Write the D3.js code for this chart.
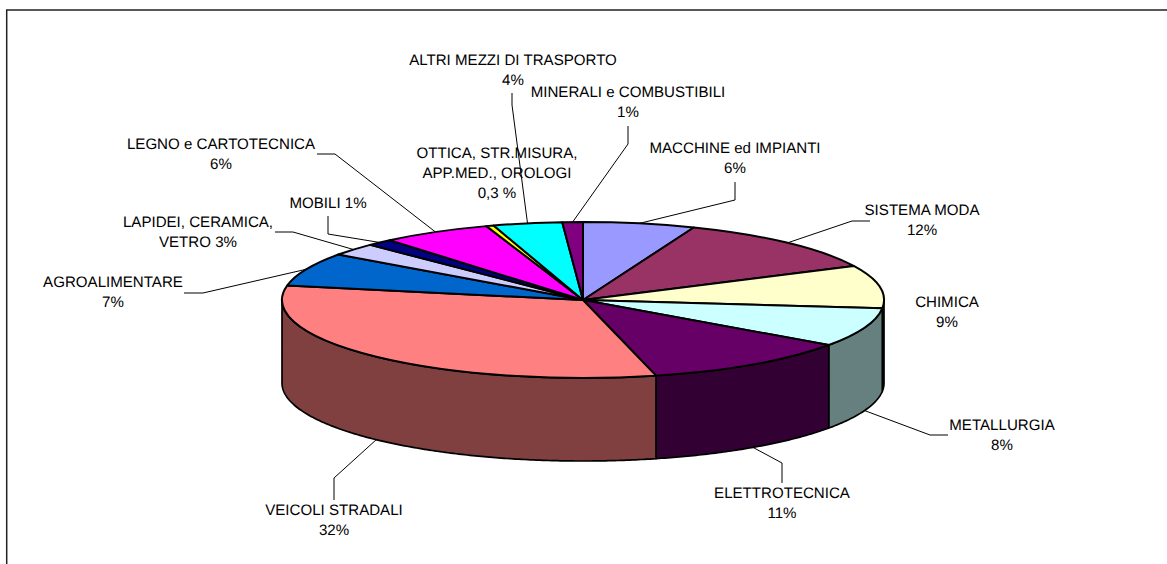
<!DOCTYPE html>
<html>
<head>
<meta charset="utf-8">
<script src="https://cdn.jsdelivr.net/npm/d3@7"></script>
<style>
  html, body { margin: 0; padding: 0; background: #fff; overflow: hidden; }
  text { font-family: "Liberation Sans", Arial, sans-serif; font-size: 15.1px; fill: #000; text-rendering: geometricPrecision; }
</style>
</head>
<body>
<svg id="chart" width="1167" height="564"></svg>
<script>
// slice shares (clockwise from twelve o'clock)
var sectors = [ "MACCHINE", "SISTEMA MODA", "CHIMICA", "METALLURGIA", "ELETTROTECNICA",
  "VEICOLI STRADALI", "AGROALIMENTARE", "LAPIDEI", "MOBILI", "LEGNO", "OTTICA", "ALTRI MEZZI", "MINERALI" ];
var shares = [ 6.0, 11.8, 8.9, 8.1, 11.3, 31.9, 6.9, 2.6, 1.4, 5.9, 0.4, 3.7, 1.1 ];
var colors = [ "#9999ff", "#993366", "#ffffcc", "#ccffff", "#660066", "#ff8080", "#0066cc",
  "#ccccff", "#000080", "#ff00ff", "#ffff00", "#00ffff", "#800080" ];

// printed labels, one array of lines per sector
var labelLines = [
  [ "MACCHINE ed IMPIANTI", "6%" ],
  [ "SISTEMA MODA", "12%" ],
  [ "CHIMICA", "9%" ],
  [ "METALLURGIA", "8%" ],
  [ "ELETTROTECNICA", "11%" ],
  [ "VEICOLI STRADALI", "32%" ],
  [ "AGROALIMENTARE", "7%" ],
  [ "LAPIDEI, CERAMICA,", "VETRO 3%" ],
  [ "MOBILI 1%" ],
  [ "LEGNO e CARTOTECNICA", "6%" ],
  [ "OTTICA, STR.MISURA,", "APP.MED., OROLOGI", "0,3 %" ],
  [ "ALTRI MEZZI DI TRASPORTO", "4%" ],
  [ "MINERALI e COMBUSTIBILI", "1%" ]
];

// label centre and first line y, then the leader bend and end (null = no leader)
var labelPos = [
  { x: 735, y: 147.5, bend: [ 735, 200 ], end: [ 735, 182 ] },
  { x: 922, y: 209.5, bend: [ 852, 221 ], end: [ 870, 221 ] },
  { x: 947, y: 301.5, bend: null, end: null },
  { x: 1002, y: 424.5, bend: [ 930, 435 ], end: [ 948, 435 ] },
  { x: 782, y: 492.5, bend: [ 782, 463 ], end: [ 782, 483 ] },
  { x: 334, y: 509.5, bend: [ 334, 478 ], end: [ 334, 500 ] },
  { x: 113, y: 281.5, bend: [ 203, 293 ], end: [ 184, 293 ] },
  { x: 198, y: 221.5, bend: [ 293, 232 ], end: [ 275, 232 ] },
  { x: 328, y: 202.5, bend: [ 328, 234 ], end: [ 328, 216 ] },
  { x: 221, y: 143.5, bend: [ 335, 154 ], end: [ 317, 154 ] },
  { x: 497, y: 152.5, bend: null, end: null },
  { x: 513, y: 59.5, bend: [ 512, 105 ], end: [ 512, 93 ] },
  { x: 628, y: 91.5, bend: [ 628, 144 ], end: [ 628, 126 ] }
];

var cx = 583, cy = 300, rx = 301, ry = 78, depth = 83;
var lineHeight = 20.3;

var svg = d3.select( "#chart" );

// chart frame, cut off by the window on the right and at the bottom
svg.append( "path" )
  .attr( "d", "M6.7,564V10H1167" )
  .attr( "fill", "none" )
  .attr( "stroke", "#222" )
  .attr( "stroke-width", 1.5 );

var pie = d3.pie().sort( null ).value( d => d.share );
var slices = pie( shares.map( ( share, i ) => ( { share: share, color: colors[ i ], i: i } ) ) );

// angles are measured clockwise from the top, as in d3.arc
function onRim( a, drop ) {
  return [ cx + rx * Math.sin( a ), cy - ry * Math.cos( a ) + ( drop || 0 ) ];
}

function halfTone( c ) {
  var rgb = d3.rgb( c );
  return d3.rgb( rgb.r / 2, rgb.g / 2, rgb.b / 2 ).formatHex();
}

// front walls: only the part of a slice between 90 and 270 degrees shows
var rimLine = d3.line();

function wallPath( d ) {
  var a0 = Math.max( d.startAngle, Math.PI / 2 ),
    a1 = Math.min( d.endAngle, Math.PI * 1.5 );
  if( a1 <= a0 ) return null;
  var angles = d3.range( a0, a1, 0.01 ).concat( [ a1 ] );
  var top = angles.map( a => onRim( a ) ),
    bottom = angles.slice().reverse().map( a => onRim( a, depth ) );
  return rimLine( top.concat( bottom ) ) + "Z";
}

svg.append( "g" )
  .selectAll( "path.wall" )
  .data( slices.filter( d => wallPath( d ) ) )
  .enter().append( "path" )
    .attr( "class", "wall" )
    .attr( "d", wallPath )
    .attr( "fill", d => halfTone( d.data.color ) )
    .attr( "stroke", "#000" )
    .attr( "stroke-width", 1.7 )
    .attr( "stroke-linejoin", "round" );

// top face: a flat pie squashed into an ellipse
var arc = d3.arc().innerRadius( 0 ).outerRadius( rx );

svg.append( "g" )
  .attr( "transform", "translate(" + cx + "," + cy + ") scale(1," + ( ry / rx ) + ")" )
  .selectAll( "path.slice" )
  .data( slices )
  .enter().append( "path" )
    .attr( "class", "slice" )
    .attr( "d", arc )
    .attr( "fill", d => d.data.color )
    .attr( "stroke", "#000" )
    .attr( "stroke-width", 2 )
    .attr( "stroke-linejoin", "round" )
    .attr( "vector-effect", "non-scaling-stroke" );

// leader lines start at the middle of each slice's outer edge
var leaderLine = d3.line();

svg.append( "g" )
  .selectAll( "path.leader" )
  .data( slices.filter( d => labelPos[ d.data.i ].bend ) )
  .enter().append( "path" )
    .attr( "class", "leader" )
    .attr( "d", d => {
      var mid = ( d.startAngle + d.endAngle ) / 2,
        front = mid > Math.PI / 2 && mid < Math.PI * 1.5,
        pos = labelPos[ d.data.i ];
      return leaderLine( [ onRim( mid, front ? depth : 0 ), pos.bend, pos.end ] );
    } )
    .attr( "fill", "none" )
    .attr( "stroke", "#000" )
    .attr( "stroke-width", 1 );

// labels go last, the leaders run behind them
var labels = svg.append( "g" )
  .selectAll( "text" )
  .data( labelLines )
  .enter().append( "text" )
    .attr( "text-anchor", "middle" )
    .attr( "dominant-baseline", "central" );

labels.selectAll( "tspan" )
  .data( ( lines, i ) => lines.map( ( line, j ) => ( { line: line, j: j, pos: labelPos[ i ] } ) ) )
  .enter().append( "tspan" )
    .attr( "x", d => d.pos.x )
    .attr( "y", d => d.pos.y + d.j * lineHeight )
    .text( d => d.line );
</script>
</body>
</html>
